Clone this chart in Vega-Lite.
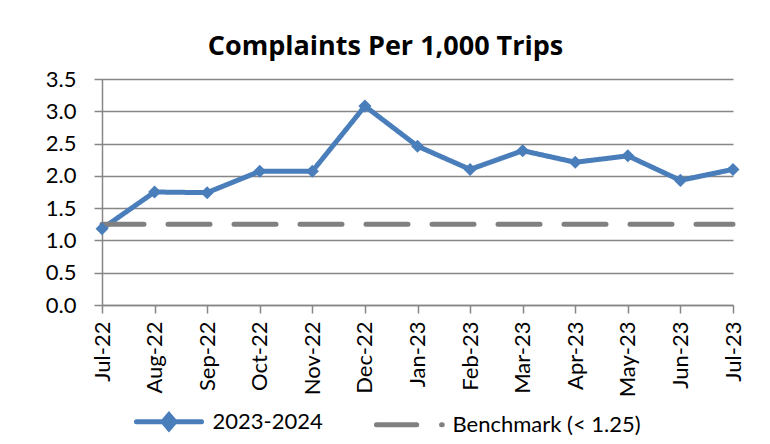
{
  "$schema": "https://vega.github.io/schema/vega-lite/v6.json",
  "autosize": {"type": "none"},
  "width": 631,
  "height": 226,
  "padding": {"left": 102, "top": 79, "right": 37, "bottom": 139},
  "background": "white",
  "title": {"text": "Complaints Per 1,000 Trips", "font": "Open Sans", "fontSize": 27, "fontWeight": "bold", "color": "black", "anchor": "middle", "offset": 7, "dx": -32},
  "data": {"values": [
    {"month": "Jul-22", "series": "2023-2024", "value": 1.18},
    {"month": "Aug-22", "series": "2023-2024", "value": 1.75},
    {"month": "Sep-22", "series": "2023-2024", "value": 1.74},
    {"month": "Oct-22", "series": "2023-2024", "value": 2.07},
    {"month": "Nov-22", "series": "2023-2024", "value": 2.07},
    {"month": "Dec-22", "series": "2023-2024", "value": 3.08},
    {"month": "Jan-23", "series": "2023-2024", "value": 2.46},
    {"month": "Feb-23", "series": "2023-2024", "value": 2.10},
    {"month": "Mar-23", "series": "2023-2024", "value": 2.39},
    {"month": "Apr-23", "series": "2023-2024", "value": 2.21},
    {"month": "May-23", "series": "2023-2024", "value": 2.31},
    {"month": "Jun-23", "series": "2023-2024", "value": 1.93},
    {"month": "Jul-23", "series": "2023-2024", "value": 2.10},
    {"month": "Jul-22", "series": "Benchmark (< 1.25)", "value": 1.25},
    {"month": "Aug-22", "series": "Benchmark (< 1.25)", "value": 1.25},
    {"month": "Sep-22", "series": "Benchmark (< 1.25)", "value": 1.25},
    {"month": "Oct-22", "series": "Benchmark (< 1.25)", "value": 1.25},
    {"month": "Nov-22", "series": "Benchmark (< 1.25)", "value": 1.25},
    {"month": "Dec-22", "series": "Benchmark (< 1.25)", "value": 1.25},
    {"month": "Jan-23", "series": "Benchmark (< 1.25)", "value": 1.25},
    {"month": "Feb-23", "series": "Benchmark (< 1.25)", "value": 1.25},
    {"month": "Mar-23", "series": "Benchmark (< 1.25)", "value": 1.25},
    {"month": "Apr-23", "series": "Benchmark (< 1.25)", "value": 1.25},
    {"month": "May-23", "series": "Benchmark (< 1.25)", "value": 1.25},
    {"month": "Jun-23", "series": "Benchmark (< 1.25)", "value": 1.25},
    {"month": "Jul-23", "series": "Benchmark (< 1.25)", "value": 1.25}
  ]},
  "encoding": {
    "x": {"field": "month", "type": "nominal", "sort": null, "scale": {"type": "point", "padding": 0},
      "axis": {"title": null, "labelAngle": -90, "labelFont": "Lato", "labelFontSize": 22, "labelColor": "black", "domainColor": "#868686", "domainWidth": 1.5, "tickColor": "#868686", "tickWidth": 1.5, "tickSize": 8, "labelPadding": 8, "grid": false}},
    "y": {"field": "value", "type": "quantitative", "scale": {"domain": [0, 3.5], "nice": false, "zero": true},
      "axis": {"title": null, "values": [0, 0.5, 1, 1.5, 2, 2.5, 3, 3.5], "format": ".1f", "labelFont": "Lato", "labelFontSize": 22, "labelColor": "black", "domainColor": "#868686", "domainWidth": 1.5, "tickColor": "#868686", "tickWidth": 1.5, "tickSize": 8, "labelPadding": 18, "grid": true, "gridColor": "#868686", "gridWidth": 1.5}}
  },
  "layer": [
    {
      "mark": {"type": "line", "strokeWidth": 5, "strokeCap": "round", "strokeJoin": "round"},
      "encoding": {
        "color": {"field": "series", "type": "nominal", "sort": null,
          "scale": {"domain": ["2023-2024", "Benchmark (< 1.25)"], "range": ["#4A7EBB", "#808080"]},
          "legend": {
            "orient": "none", "legendX": 29.5, "legendY": 305, "direction": "horizontal", "title": null,
            "symbolSize": 4900, "symbolStrokeWidth": 5, "labelFont": "Lato", "labelFontSize": 22, "labelColor": "black",
            "labelOffset": 6, "labelLimit": 0, "columnPadding": 42, "padding": 0,
            "encode": {"symbols": {"update": {
              "shape": {"signal": "datum.value === '2023-2024' ? 'M-0.93,0L0.93,0M0,-0.2L0.17,0L0,0.2L-0.17,0Z' : 'M-0.93,0L0.22,0M0.93,0L0.95,0'"},
              "fill": {"signal": "datum.value === '2023-2024' ? '#4A7EBB' : 'transparent'"},
              "stroke": {"signal": "datum.value === '2023-2024' ? '#4A7EBB' : '#808080'"},
              "strokeWidth": {"value": 5},
              "strokeCap": {"value": "round"},
              "strokeDash": {"value": [1, 0]},
              "opacity": {"value": 1}
            }}}
          }},
        "strokeDash": {"field": "series", "type": "nominal", "sort": null,
          "scale": {"domain": ["2023-2024", "Benchmark (< 1.25)"], "range": [[1, 0], [42, 24]]}, "legend": null}
      }
    },
    {
      "transform": [{"filter": "datum.series === '2023-2024'"}],
      "mark": {"type": "point", "shape": "diamond", "filled": true, "size": 170, "opacity": 1, "color": "#4A7EBB"},
      "encoding": {}
    }
  ],
  "config": {"view": {"stroke": null}}
}
